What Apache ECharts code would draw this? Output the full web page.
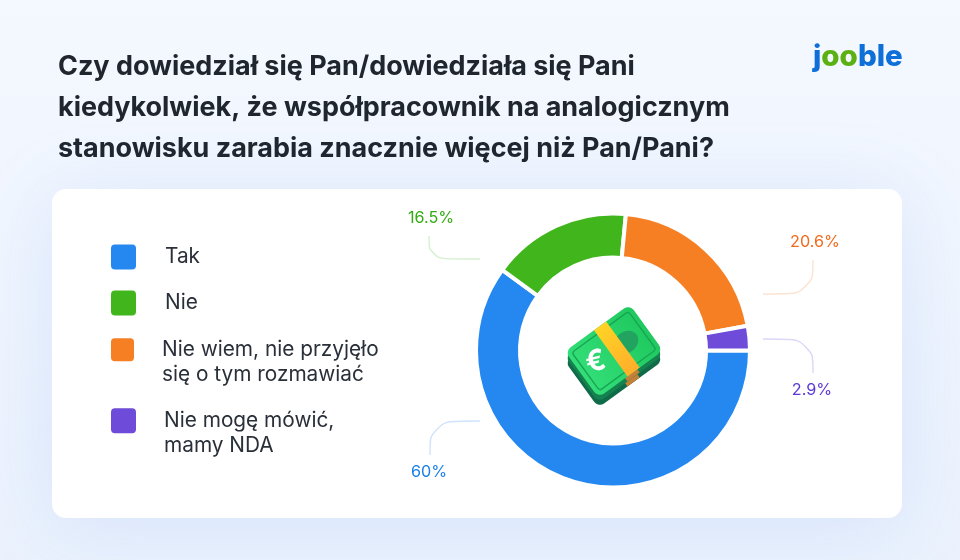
<!DOCTYPE html>
<html><head><meta charset="utf-8">
<style>html,body{margin:0;padding:0;background:#f1f6ff}#c{width:960px;height:560px}</style>
<script src="https://cdn.jsdelivr.net/npm/echarts@6/dist/echarts.min.js"></script>
</head><body><div id="c"></div>
<script>
const categories = ['Tak', 'Nie', 'Nie wiem, nie przyjęło\nsię o tym rozmawiać', 'Nie mogę mówić,\nmamy NDA'];
const values = [60, 16.5, 20.6, 2.9];
const sliceColors = ['#2488F0', '#40B61C', '#F67F24', '#6E4BD8'];
const labelColors = ['#1A7FE8', '#34AB14', '#F26B1D', '#5A37D6'];
const leaderColors = ['#CFE4FC', '#D6F0CE', '#FDE3D2', '#DDD6F7'];
const titleText = 'Czy dowiedział się Pan/dowiedziała się Pani\nkiedykolwiek, że współpracownik na analogicznym\nstanowisku zarabia znacznie więcej niż Pan/Pani?';

const labelSpots = [
  {x: 429, y: 472, line: [[430, 455], [430, 421], [480, 421]]},
  {x: 431, y: 218, line: [[429, 236], [429, 259], [480, 259]]},
  {x: 815, y: 242, line: [[813, 260], [813, 294], [763, 294]]},
  {x: 812, y: 390, line: [[813, 373], [813, 339], [763, 339]]}
];
const legendSpots = [
  {left: 111, top: 244.5, w: 25, gap: 29, blank: ''},
  {left: 111, top: 290.5, w: 25, gap: 29, blank: ''},
  {left: 111, top: 313, w: 23, gap: 28, blank: '\n'},
  {left: 111, top: 384, w: 25, gap: 28, blank: '\n'}
];
const swatch = 'path://M4 0H21A4 4 0 0 1 25 4V21A4 4 0 0 1 21 25H4A4 4 0 0 1 0 21V4A4 4 0 0 1 4 0Z';

const billCenter = {x: 614, y: 351};
const billRot = 36 * Math.PI / 180;
const billW = 80, billH = 57;
function bill(dy, fill, band) {
  return {type: 'group', x: billCenter.x, y: billCenter.y + dy, rotation: billRot, z: 10, children: [
    {type: 'rect', shape: {x: -billW / 2, y: -billH / 2, width: billW, height: billH, r: 7}, style: {fill: fill}},
    {type: 'rect', shape: {x: -4, y: -billH / 2, width: 15, height: billH}, style: {fill: band}}
  ]};
}

const chart = echarts.init(document.getElementById('c'), null, {renderer: 'canvas'});
chart.setOption({
  animation: false,
  backgroundColor: {type: 'linear', x: 0, y: 0, x2: 0, y2: 1, colorStops: [{offset: 0, color: '#F4F8FF'}, {offset: 1, color: '#EBF2FD'}]},
  title: {
    text: titleText, left: 58, top: 46, padding: 0,
    textStyle: {fontFamily: 'Inter', fontWeight: 700, fontSize: 26.95, lineHeight: 41, color: '#20262E'}
  },
  color: sliceColors,
  legend: categories.map((name, i) => ({
    data: [name], left: legendSpots[i].left, top: legendSpots[i].top, orient: 'horizontal',
    icon: swatch, itemWidth: legendSpots[i].w, itemHeight: 25, itemGap: 0,
    selectedMode: false, padding: 0,
    formatter: n => legendSpots[i].blank + n,
    itemStyle: {borderWidth: 0},
    textStyle: {fontFamily: 'Inter', fontSize: 20.8, lineHeight: 24.5, color: '#2A3039',
      padding: [0, 0, 0, legendSpots[i].gap - 5]}
  })),
  graphic: [
    {type: 'rect', z: 0, shape: {x: 52, y: 189, width: 850, height: 329, r: 14},
      style: {fill: '#fff', shadowBlur: 80, shadowColor: 'rgba(90,140,235,0.15)', shadowOffsetY: 8}},
    {type: 'text', z: 5, x: 813, y: 42, style: {
      text: '{b|j}{g|oo}{b|ble}', rich: {
        b: {fill: '#0F6FD8', fontFamily: 'Inter', fontWeight: 800, fontSize: 29.5},
        g: {fill: '#5BB012', fontFamily: 'Inter', fontWeight: 800, fontSize: 29.5}
      }}},
    bill(10, '#0F6B48', '#C47F38'),
    bill(5, '#14824F', '#C47F38'),
    {type: 'group', x: billCenter.x, y: billCenter.y, rotation: billRot, z: 11, children: [
      {type: 'rect', shape: {x: -billW / 2, y: -billH / 2, width: billW, height: billH, r: 7},
        style: {fill: {type: 'linear', x: 0, y: 0, x2: 1, y2: 0, colorStops: [{offset: 0, color: '#33DE78'}, {offset: 1, color: '#1FC95F'}]}}},
      {type: 'rect', shape: {x: -35, y: -23.5, width: 70, height: 47, r: 3},
        style: {fill: 'none', stroke: '#17A653', lineWidth: 1.4}},
      {type: 'ellipse', shape: {cx: 15, cy: 0, rx: 13, ry: 10.5}, style: {fill: '#22A35F'}},
      {type: 'rect', shape: {x: -4, y: -billH / 2, width: 15, height: billH},
        style: {fill: {type: 'linear', x: 0, y: 0, x2: 0, y2: 1, colorStops: [{offset: 0, color: '#FFD324'}, {offset: 1, color: '#FFAE2B'}]}}},
      {type: 'text', x: -21, y: -2, rotation: -billRot + 0.25, style: {text: '€', fill: '#fff', fontFamily: 'Inter', fontWeight: 700, fontSize: 29, align: 'center', verticalAlign: 'middle'}}
    ]}
  ],
  series: [{
    type: 'pie', z: 2, center: [613, 350.5], radius: [93, 137], startAngle: 0, clockwise: true,
    silent: true, minAngle: 0, percentPrecision: 1,
    itemStyle: {borderColor: '#fff', borderWidth: 4},
    label: {show: true, position: 'outside', fontFamily: 'Inter', fontSize: 16.2, formatter: p => p.value + '%'},
    labelLine: {show: true, smooth: 0.45, lineStyle: {width: 1.4}},
    labelLayout: p => ({
      x: labelSpots[p.dataIndex].x, y: labelSpots[p.dataIndex].y, align: 'center', verticalAlign: 'middle',
      labelLinePoints: labelSpots[p.dataIndex].line
    }),
    data: categories.map((name, i) => ({
      name, value: values[i],
      label: {color: labelColors[i]},
      labelLine: {lineStyle: {color: leaderColors[i]}}
    }))
  }]
});
</script></body></html>
